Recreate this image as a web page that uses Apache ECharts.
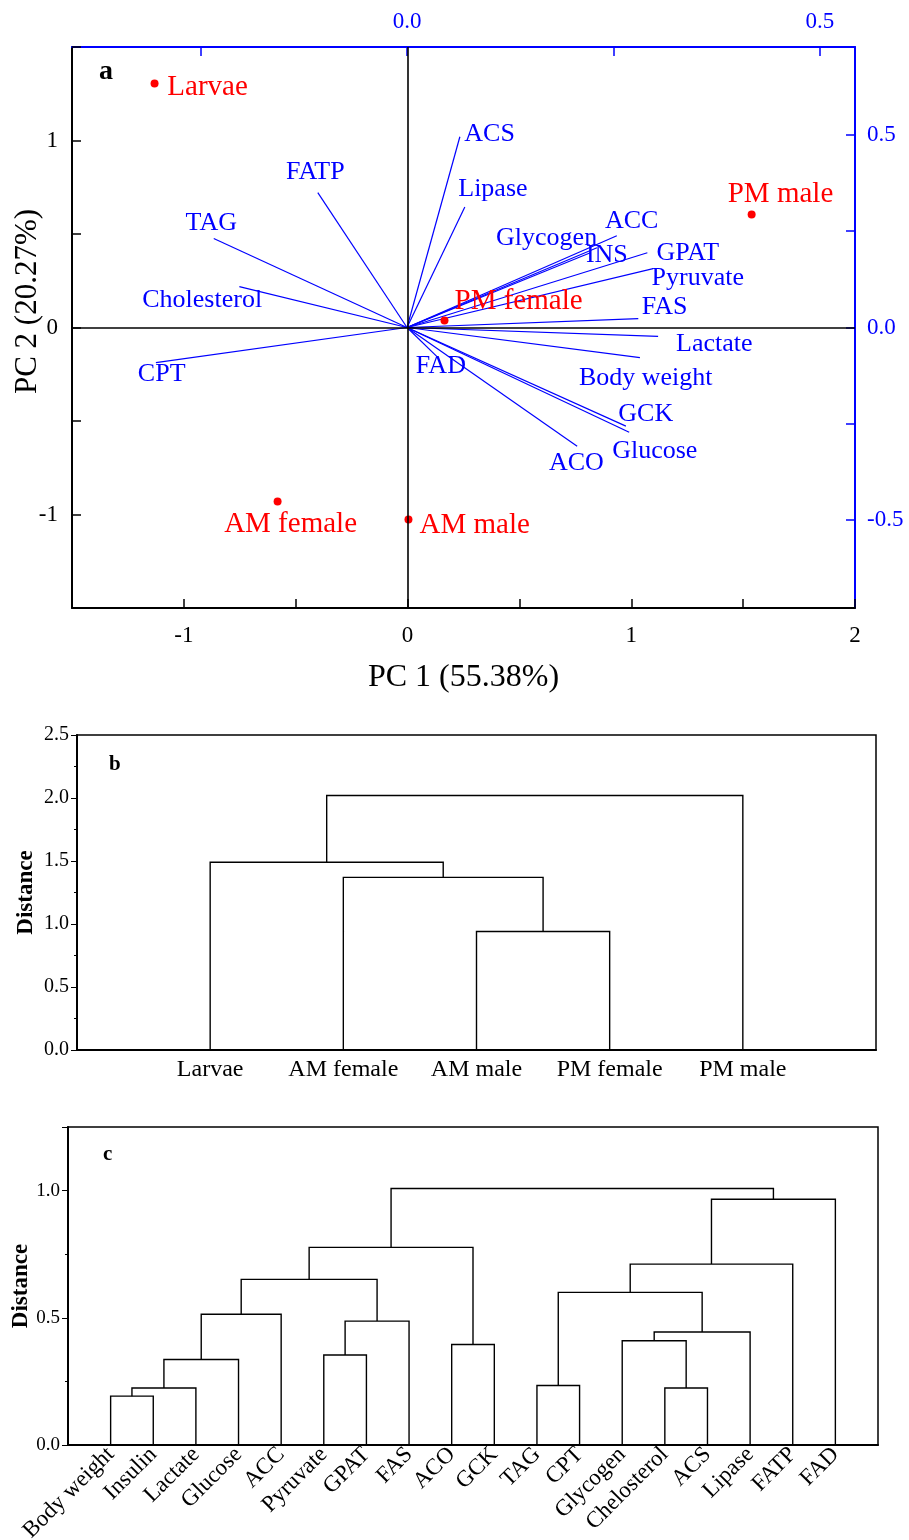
<!DOCTYPE html>
<html>
<head>
<meta charset="utf-8">
<script src="https://cdn.jsdelivr.net/npm/echarts@6/dist/echarts.min.js"></script>
<style>html,body{margin:0;padding:0;background:#fff}#main{width:909px;height:1540px}</style>
</head>
<body>
<div id="main"></div>
<script>
var serif = 'Liberation Serif';
var blue = '#0000ff', red = '#ff0000';

// panel a - scores on PC1 / PC2
var scoreNames = ['Larvae', 'PM male', 'PM female', 'AM female', 'AM male'];
var scoreX = [-1.131, 1.538, 0.165, -0.581, 0.004];
var scoreY = [1.305, 0.604, 0.037, -0.930, -1.027];
var scoreLabelX = [-0.894, 1.667, 0.496, -0.523, 0.300];
var scoreLabelY = [1.283, 0.711, 0.139, -1.053, -1.059];

// panel a - loadings (top / right axes)
var varNames = ['ACS', 'Lipase', 'FATP', 'TAG', 'Cholesterol', 'CPT', 'FAD', 'Glycogen', 'ACC',
  'INS', 'GPAT', 'Pyruvate', 'FAS', 'Lactate', 'Body weight', 'GCK', 'Glucose', 'ACO'];
var loadX = [0.064, 0.070, -0.108, -0.234, -0.203, -0.304, 0.036, 0.230, 0.254,
  0.222, 0.291, 0.298, 0.280, 0.304, 0.282, 0.265, 0.269, 0.206];
var loadY = [0.495, 0.313, 0.350, 0.231, 0.106, -0.091, -0.075, 0.207, 0.238,
  0.194, 0.194, 0.153, 0.023, -0.023, -0.078, -0.256, -0.272, -0.308];
var varLabelX = [0.100, 0.104, -0.111, -0.237, -0.248, -0.297, 0.041, 0.169, 0.272,
  0.242, 0.340, 0.352, 0.312, 0.372, 0.289, 0.289, 0.300, 0.205];
var varLabelY = [0.503, 0.358, 0.402, 0.272, 0.070, -0.122, -0.101, 0.231, 0.277,
  0.187, 0.192, 0.127, 0.054, -0.044, -0.132, -0.225, -0.321, -0.352];
var topTicks = [-0.25, 0, 0.25, 0.5];
var topLabels = [0, 0.5];
var rightTicks = [-0.5, -0.25, 0, 0.25, 0.5];
var rightLabels = [-0.5, 0, 0.5];

// panel b - sample clustering
var sampleNames = ['Larvae', 'AM female', 'AM male', 'PM female', 'PM male'];
var sampleMerges = [[2, 3, 0.94], [1, 5, 1.37], [0, 6, 1.49], [7, 4, 2.02]];

// panel c - variable clustering
var geneNames = ['Body weight', 'Insulin', 'Lactate', 'Glucose', 'ACC', 'Pyruvate', 'GPAT', 'FAS', 'ACO',
  'GCK', 'TAG', 'CPT', 'Glycogen', 'Chelosterol', 'ACS', 'Lipase', 'FATP', 'FAD'];
var geneMerges = [[0, 1, 0.192], [18, 2, 0.224], [19, 3, 0.336], [20, 4, 0.514], [5, 6, 0.354],
  [22, 7, 0.487], [21, 23, 0.651], [8, 9, 0.395], [24, 25, 0.777], [10, 11, 0.234], [13, 14, 0.224],
  [12, 28, 0.41], [29, 15, 0.444], [27, 30, 0.600], [31, 16, 0.711], [32, 17, 0.966], [26, 33, 1.008]];

function dendro(n, merges, offset) {
  var nodes = [];
  for (var i = 0; i < n; i++) nodes.push({x: i + offset, h: 0});
  var segs = [];
  merges.forEach(function (m) {
    var a = nodes[m[0]], b = nodes[m[1]];
    segs.push({coords: [[a.x, a.h], [a.x, m[2]], [b.x, m[2]], [b.x, b.h]]});
    nodes.push({x: (a.x + b.x) / 2, h: m[2]});
  });
  return segs;
}

function halfLabel(v) {
  return Math.abs(v * 2 - Math.round(v * 2)) < 1e-9 ? v.toFixed(1) : '';
}

var myChart = echarts.init(document.getElementById('main'));

var tickTxt = {color: '#000', fontFamily: serif, fontSize: 23};
var option = {
  animation: false,
  grid: [
    {left: 72, top: 47, width: 783, height: 561, outerBoundsMode: 'none'},
    {left: 77, top: 735, width: 799, height: 315, show: true, borderColor: '#000', borderWidth: 1.5, outerBoundsMode: 'none'},
    {left: 68, top: 1127, width: 810, height: 318, show: true, borderColor: '#000', borderWidth: 1.5, outerBoundsMode: 'none'}
  ],
  graphic: [
    {type: 'text', left: 99, top: 58, style: {text: 'a', font: 'bold 28px "Liberation Serif"', fill: '#000'}},
    {type: 'text', left: 109, top: 754, style: {text: 'b', font: 'bold 21px "Liberation Serif"', fill: '#000'}},
    {type: 'text', left: 103, top: 1144, style: {text: 'c', font: 'bold 21px "Liberation Serif"', fill: '#000'}}
  ],
  xAxis: [
    {
      gridIndex: 0, type: 'value', min: -1.5, max: 2, interval: 0.5,
      name: 'PC 1 (55.38%)', nameLocation: 'middle', nameGap: 54, nameMoveOverlap: false,
      nameTextStyle: {color: '#000', fontFamily: serif, fontSize: 32},
      axisLine: {onZero: false, lineStyle: {color: '#000', width: 2}},
      axisTick: {inside: true, length: 9, lineStyle: {color: '#000', width: 1.5}},
      axisLabel: Object.assign({margin: 16, formatter: function (v) { return Number.isInteger(v) ? String(v) : ''; }}, tickTxt),
      splitLine: {show: false}
    },
    {
      gridIndex: 0, type: 'value', position: 'top', min: -0.4056, max: 0.5424,
      axisLine: {onZero: false, lineStyle: {color: blue, width: 2}},
      axisTick: {inside: true, length: 9, customValues: topTicks, lineStyle: {color: blue, width: 1.5}},
      axisLabel: Object.assign({}, tickTxt, {color: blue, margin: 14, customValues: topLabels, formatter: function (v) { return v.toFixed(1); }}),
      splitLine: {show: false}
    },
    {
      gridIndex: 1, type: 'value', min: 0, max: 6,
      axisLine: {onZero: false, lineStyle: {color: '#000', width: 2}},
      axisTick: {show: false},
      axisLabel: {customValues: [1, 2, 3, 4, 5], formatter: function (v) { return sampleNames[v - 1]; },
        color: '#000', fontFamily: serif, fontSize: 24, margin: 8},
      splitLine: {show: false}
    },
    {
      gridIndex: 2, type: 'value', min: -1, max: 18,
      axisLine: {onZero: false, lineStyle: {color: '#000', width: 2}},
      axisTick: {show: false},
      axisLabel: {customValues: geneNames.map(function (d, i) { return i; }), formatter: function (v) { return geneNames[v]; },
        rotate: 45, color: '#000', fontFamily: serif, fontSize: 23, margin: 6},
      splitLine: {show: false}
    }
  ],
  yAxis: [
    {
      gridIndex: 0, type: 'value', min: -1.5, max: 1.5, interval: 0.5,
      name: 'PC 2 (20.27%)', nameLocation: 'middle', nameGap: 29, nameMoveOverlap: false,
      nameTextStyle: {color: '#000', fontFamily: serif, fontSize: 31, padding: [0, 0, 0, 52]},
      axisLine: {onZero: false, lineStyle: {color: '#000', width: 2}},
      axisTick: {inside: true, length: 9, lineStyle: {color: '#000', width: 1.5}},
      axisLabel: Object.assign({margin: 14, formatter: function (v) { return Number.isInteger(v) ? String(v) : ''; }}, tickTxt),
      splitLine: {show: false}
    },
    {
      gridIndex: 0, type: 'value', position: 'right', min: -0.728, max: 0.728,
      axisLine: {onZero: false, lineStyle: {color: blue, width: 2}},
      axisTick: {inside: true, length: 9, customValues: rightTicks, lineStyle: {color: blue, width: 1.5}},
      axisLabel: Object.assign({}, tickTxt, {color: blue, margin: 12, customValues: rightLabels, formatter: function (v) { return v.toFixed(1); }}),
      splitLine: {show: false}
    },
    {
      gridIndex: 1, type: 'value', min: 0, max: 2.5, interval: 0.5,
      name: 'Distance', nameLocation: 'middle', nameGap: 39, nameMoveOverlap: false,
      nameTextStyle: {color: '#000', fontFamily: serif, fontSize: 23, fontWeight: 'bold'},
      axisLine: {onZero: false, lineStyle: {color: '#000', width: 2}},
      axisTick: {length: 6, lineStyle: {color: '#000', width: 1}},
      minorTick: {show: true, splitNumber: 2, length: 3, lineStyle: {color: '#000', width: 1}},
      axisLabel: {color: '#000', fontFamily: serif, fontSize: 20, margin: 8, formatter: halfLabel},
      splitLine: {show: false}
    },
    {
      gridIndex: 2, type: 'value', min: 0, max: 1.25, interval: 0.5,
      name: 'Distance', nameLocation: 'middle', nameGap: 35, nameMoveOverlap: false,
      nameTextStyle: {color: '#000', fontFamily: serif, fontSize: 23, fontWeight: 'bold'},
      axisLine: {onZero: false, lineStyle: {color: '#000', width: 2}},
      axisTick: {length: 6, lineStyle: {color: '#000', width: 1}},
      minorTick: {show: true, splitNumber: 2, length: 3, lineStyle: {color: '#000', width: 1}},
      axisLabel: {color: '#000', fontFamily: serif, fontSize: 19, margin: 8, formatter: halfLabel},
      splitLine: {show: false}
    }
  ],
  series: [
    {
      type: 'lines', coordinateSystem: 'cartesian2d', xAxisIndex: 1, yAxisIndex: 1,
      data: loadX.map(function (x, i) { return {coords: [[0, 0], [x, loadY[i]]]}; }),
      lineStyle: {color: blue, width: 1.2, opacity: 1}, silent: true
    },
    {
      type: 'scatter', xAxisIndex: 1, yAxisIndex: 1, symbolSize: 0,
      data: varNames.map(function (n, i) { return {name: n, value: [varLabelX[i], varLabelY[i]]}; }),
      label: {show: true, position: 'inside', formatter: '{b}', color: blue, fontFamily: serif, fontSize: 26},
      itemStyle: {color: 'transparent', opacity: 1}, silent: true
    },
    {
      type: 'scatter', xAxisIndex: 0, yAxisIndex: 0, symbolSize: 8,
      data: scoreNames.map(function (n, i) { return {name: n, value: [scoreX[i], scoreY[i]]}; }),
      itemStyle: {color: red, opacity: 1},
      markLine: {
        silent: true, symbol: ['none', 'none'], label: {show: false},
        lineStyle: {color: '#000', width: 1.6, type: 'solid'},
        data: [{xAxis: 0}, {yAxis: 0}]
      },
      z: 3
    },
    {
      type: 'scatter', xAxisIndex: 0, yAxisIndex: 0, symbolSize: 0,
      data: scoreNames.map(function (n, i) { return {name: n, value: [scoreLabelX[i], scoreLabelY[i]]}; }),
      label: {show: true, position: 'inside', formatter: '{b}', color: red, fontFamily: serif, fontSize: 29},
      itemStyle: {color: 'transparent', opacity: 1}, silent: true
    },
    {
      type: 'lines', coordinateSystem: 'cartesian2d', xAxisIndex: 2, yAxisIndex: 2, polyline: true,
      data: dendro(sampleNames.length, sampleMerges, 1),
      lineStyle: {color: '#000', width: 1.4, opacity: 1}, silent: true
    },
    {
      type: 'lines', coordinateSystem: 'cartesian2d', xAxisIndex: 3, yAxisIndex: 3, polyline: true,
      data: dendro(geneNames.length, geneMerges, 0),
      lineStyle: {color: '#000', width: 1.4, opacity: 1}, silent: true
    }
  ]
};
myChart.setOption(option);
</script>
</body>
</html>
